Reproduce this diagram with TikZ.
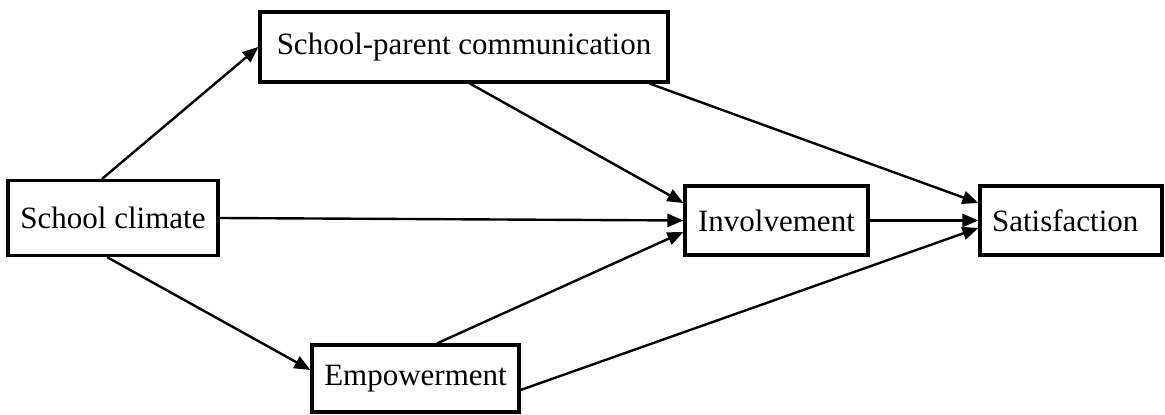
\documentclass[tikz,border=0pt]{standalone}
\usepackage{fontspec}
\setmainfont{Liberation Serif}
\usetikzlibrary{arrows.meta,calc}
\begin{document}
\begin{tikzpicture}[x=0.5pt,y=-0.5pt,
  box/.style={draw, line width=1.6pt, inner sep=0pt, fill=white,
    font=\fontsize{15.5}{18}\selectfont},
  arr/.style={line width=1.2pt, -{Triangle[length=8pt,width=6.5pt]}}]
\useasboundingbox (0,0) rectangle (1165,415);
\node[box, minimum width=204pt, minimum height=35pt] (comm) at (464,47) {School-parent communication};
\node[box, minimum width=105pt, minimum height=37.5pt] (clim) at (113,218) {School climate};
\node[box, minimum width=91.5pt, minimum height=34.5pt] (inv) at (776.5,220.5) {Involvement};
\node[box, minimum width=91pt, minimum height=34.5pt, text width=79pt, align=left] (sat) at (1071,220.5) {Satisfaction};
\node[box, minimum width=103.5pt, minimum height=33.5pt] (emp) at (415.5,378.5) {Empowerment};
% connectors
\draw[arr] ($(clim.north)+(-11,0)$) -- (comm.west);
\draw[arr] ($(clim.south)+(-6,0)$) -- ($(emp.west)+(0,-8.5)$);
\draw[arr] (clim.east) -- (inv.west);
\draw[arr] ($(comm.south)+(6,0)$) -- ($(inv.west)+(0,-17.5)$);
\draw[arr] ($(comm.south east)+(-20,0)$) -- ($(sat.west)+(0,-17.5)$);
\draw[arr] (inv.east) -- (sat.west);
\draw[arr] ($(emp.north)+(21.5,0)$) -- ($(inv.west)+(0,11.5)$);
\draw[arr] ($(emp.east)+(0,11.5)$) -- ($(sat.west)+(0,7.5)$);
\end{tikzpicture}
\end{document}
